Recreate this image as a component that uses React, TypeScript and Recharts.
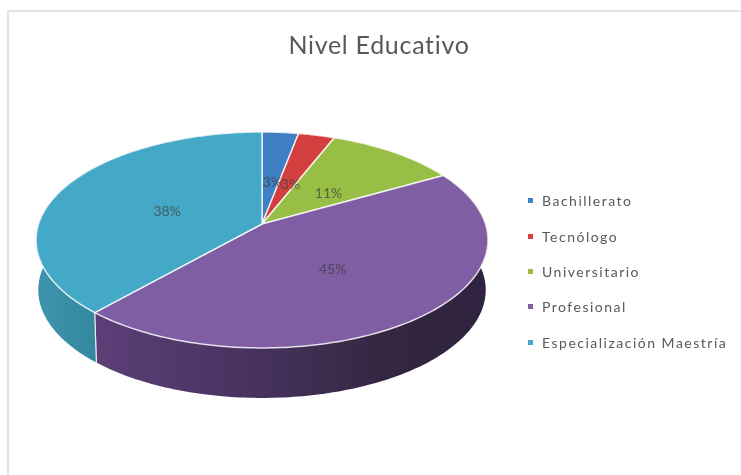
import React from "react";
import { PieChart, Pie, Legend } from "recharts";

const categories = ["Bachillerato", "Tecnólogo", "Universitario", "Profesional", "Especialización Maestría"];
const shares = [3, 3, 10.8, 44.8, 38.4];
const colors = ["#3f7fc4", "#d33f3f", "#98bf45", "#7f5ea3", "#44a9c6"];
const wallFills = ["#2f5f94", "#9c2f2f", "#72903a", "url(#wallPurple)", "url(#wallCyan)"];

const rows = categories.map((name, i) => ({ name, value: shares[i], fill: colors[i], wall: wallFills[i] }));

const FONT = "Lato, 'Open Sans', sans-serif";
const PERSPECTIVE = -0.148; // foreshortening of the tilted disc
const TILT = 0.4725;
const DEPTH = 50;
const BOTTOM_SHRINK = 0.99;

function project(cx: number, cy: number, r: number, angleDeg: number, f = 1) {
  const a = (angleDeg * Math.PI) / 180;
  const u = -Math.sin(a) * f;
  const w = 1 + PERSPECTIVE * u;
  return { x: cx + (r * f * Math.cos(a)) / w, y: cy + (r * TILT * u) / w, u };
}

function arcPoints(cx: number, cy: number, r: number, start: number, end: number) {
  const n = Math.max(2, Math.ceil(Math.abs(end - start)));
  const pts = [];
  for (let i = 0; i <= n; i++) pts.push(project(cx, cy, r, start + ((end - start) * i) / n));
  return pts;
}

const toPath = (pts: { x: number; y: number }[]) =>
  pts.map((p, i) => `${i ? "L" : "M"}${p.x.toFixed(2)} ${p.y.toFixed(2)}`).join(" ") + " Z";

function TopFace(props: any) {
  const { cx, cy, outerRadius, startAngle, endAngle, fill } = props;
  const rim = arcPoints(cx, cy, outerRadius, startAngle, endAngle);
  return (
    <path
      d={toPath([{ x: cx, y: cy }, ...rim])}
      fill={fill}
      stroke="#ffffff"
      strokeOpacity={0.8}
      strokeWidth={1.5}
      strokeLinejoin="round"
    />
  );
}

function WallFace(props: any) {
  const { cx, cy, outerRadius, startAngle, endAngle, payload } = props;
  const rim = arcPoints(cx, cy, outerRadius, startAngle, endAngle);
  const drop = (p: { x: number; y: number }) => ({ x: cx + (p.x - cx) * BOTTOM_SHRINK, y: p.y + DEPTH });
  const lower = rim.map(drop).reverse();
  const edges = [rim[0], rim[rim.length - 1]].filter((p) => p.u > 0.05);
  return (
    <g>
      <path d={toPath([...rim, ...lower])} fill={payload?.wall ?? props.wall} />
      {edges.map((p, i) => {
        const d = drop(p);
        return <line key={i} x1={p.x} y1={p.y} x2={d.x} y2={d.y} stroke="#ffffff" strokeOpacity={0.75} strokeWidth={1.2} />;
      })}
    </g>
  );
}

function PercentLabel(props: any) {
  const { cx, cy, outerRadius, midAngle, percent } = props;
  const p = project(cx, cy, outerRadius, midAngle, 0.47);
  return (
    <text x={p.x + 1} y={p.y + 4} textAnchor="middle" dominantBaseline="central" fontFamily={FONT} fontSize={14} fill="#404040" fillOpacity={0.75}>
      {Math.round(percent * 100)}%
    </text>
  );
}

function LegendList({ payload }: any) {
  const entries = (payload ?? []).filter((item: any) => item.type !== "none");
  return (
    <ul style={{ listStyle: "none", margin: 0, padding: 0 }}>
      {entries.map((item: any) => (
        <li key={item.value} style={{ display: "flex", alignItems: "center", height: 35.4, whiteSpace: "nowrap" }}>
          <span style={{ width: 5, height: 5, background: item.color, marginRight: 9, display: "inline-block" }} />
          <span style={{ fontFamily: FONT, fontSize: 14, letterSpacing: 1.5, color: "#595959" }}>{item.value}</span>
        </li>
      ))}
    </ul>
  );
}

export default function App() {
  return (
    <div style={{ position: "absolute", left: 0, top: 0, width: 741, height: 475, overflow: "hidden", background: "#fff", filter: "blur(0.6px)" }}>
      <div style={{ position: "absolute", left: 7, top: 10, right: -4, bottom: -4, borderLeft: "2px solid #e2e2e2", borderTop: "2px solid #e2e2e2" }} />
      <div style={{ position: "absolute", left: 0, width: 758, top: 29, textAlign: "center", fontFamily: FONT, fontSize: 25, letterSpacing: 0.7, color: "#595959" }}>
        Nivel Educativo
      </div>
      <PieChart width={741} height={475} margin={{ top: 0, right: 0, bottom: 0, left: 0 }} style={{ position: "absolute", left: 0, top: 0 }}>
        <defs>
          <linearGradient id="wallPurple" gradientUnits="userSpaceOnUse" x1="97" y1="0" x2="488" y2="0">
            <stop offset="0" stopColor="#5c3f77" />
            <stop offset="0.4" stopColor="#47325f" />
            <stop offset="0.75" stopColor="#33263f" />
            <stop offset="1" stopColor="#2f2340" />
          </linearGradient>
          <linearGradient id="wallCyan" gradientUnits="userSpaceOnUse" x1="36" y1="0" x2="97" y2="0">
            <stop offset="0" stopColor="#3f95ad" />
            <stop offset="1" stopColor="#33879f" />
          </linearGradient>
        </defs>
        <Pie
          data={rows}
          dataKey="value"
          nameKey="name"
          cx={262}
          cy={224}
          outerRadius={223.5}
          startAngle={90}
          endAngle={-270}
          paddingAngle={0}
          stroke="none"
          legendType="none"
          isAnimationActive={false}
          shape={WallFace}
        />
        <Pie
          data={rows}
          dataKey="value"
          nameKey="name"
          cx={262}
          cy={224}
          outerRadius={223.5}
          startAngle={90}
          endAngle={-270}
          paddingAngle={0}
          legendType="square"
          isAnimationActive={false}
          shape={TopFace}
          label={PercentLabel}
          labelLine={false}
        />
        <Legend
          layout="vertical"
          align="right"
          verticalAlign="top"
          itemSorter={null}
          content={<LegendList />}
          wrapperStyle={{ left: 528, top: 183, width: 213 }}
        />
      </PieChart>
    </div>
  );
}
